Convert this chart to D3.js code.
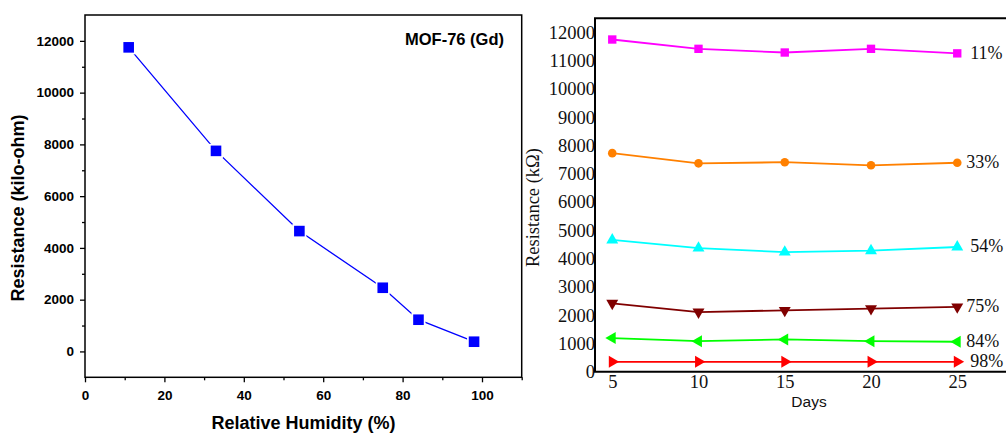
<!DOCTYPE html>
<html>
<head>
<meta charset="utf-8">
<script src="https://cdn.jsdelivr.net/npm/d3@7"></script>
<style>
  html, body { margin: 0; padding: 0; background: #fff; }
  svg { display: block; }
</style>
</head>
<body>
<svg id="chart" width="1006" height="433"></svg>
<script>
// ---------- Data: left panel ----------
const humidity = [11, 33, 54, 75, 84, 98];
const resistanceVsRH = [11750, 7750, 4650, 2460, 1225, 375];
const leftTitle = "MOF-76 (Gd)";
const leftXTicks = [0, 20, 40, 60, 80, 100];
const leftYTicks = [0, 2000, 4000, 6000, 8000, 10000, 12000];

// ---------- Data: right panel ----------
const days = [5, 10, 15, 20, 25];
const seriesLabels = ["11%", "33%", "54%", "75%", "84%", "98%"];
const rh11 = [11750, 11420, 11290, 11420, 11260];
const rh33 = [7730, 7370, 7410, 7300, 7390];
const rh54 = [4660, 4370, 4230, 4280, 4410];
const rh75 = [2420, 2110, 2170, 2230, 2290];
const rh84 = [1190, 1080, 1140, 1080, 1060];
const rh98 = [350, 350, 350, 350, 350];
const rightXTicks = [5, 10, 15, 20, 25];
const rightYTicks = [0,1000,2000,3000,4000,5000,6000,7000,8000,9000,10000,11000,12000];

const seriesColors = ["#ff00ff", "#ff8000", "#00ffff", "#800000", "#00ff00", "#ff0000"];
const seriesShapes = ["square", "circle", "triUp", "triDown", "triLeft", "triRight"];
const seriesValues = [rh11, rh33, rh54, rh75, rh84, rh98];

const svg = d3.select("#chart");
const sans = "'Liberation Sans', Arial, Helvetica, sans-serif";
const serif = "'Liberation Serif', 'Times New Roman', Times, serif";

// ================= LEFT PANEL =================
const L = { left: 85, right: 521.7, top: 15, bottom: 377.3 };
const xL = d3.scaleLinear().domain([0, 110]).range([L.left, L.right]);
const yL = d3.scaleLinear().domain([-1000, 13000]).range([L.bottom, L.top]);

const gL = svg.append("g");

// frame
gL.append("rect")
  .attr("x", L.left).attr("y", L.top)
  .attr("width", L.right - L.left).attr("height", L.bottom - L.top)
  .attr("fill", "none").attr("stroke", "#000").attr("stroke-width", 1.5);

// x axis major
gL.append("g").attr("transform", `translate(0,${L.bottom})`)
  .call(d3.axisBottom(xL).tickValues(leftXTicks).tickSize(5).tickPadding(8.5).tickFormat(d3.format("d")));
// x axis minor
gL.append("g").attr("transform", `translate(0,${L.bottom})`)
  .call(d3.axisBottom(xL).tickValues(d3.range(10, 111, 20)).tickSize(3).tickFormat(""));
// y axis major
gL.append("g").attr("transform", `translate(${L.left},0)`)
  .call(d3.axisLeft(yL).tickValues(leftYTicks).tickSize(5).tickPadding(6).tickFormat(d3.format("d")));
// y axis minor
gL.append("g").attr("transform", `translate(${L.left},0)`)
  .call(d3.axisLeft(yL).tickValues(d3.range(1000, 13000, 2000)).tickSize(3).tickFormat(""));

gL.selectAll(".domain").remove();
gL.selectAll(".tick line").attr("stroke", "#000").attr("stroke-width", 1.3);
gL.selectAll(".tick text")
  .attr("font-family", sans).attr("font-weight", "bold")
  .attr("font-size", 13.5).attr("fill", "#000");

// line
const leftPts = humidity.map((h, i) => [h, resistanceVsRH[i]]);
gL.append("path")
  .datum(leftPts)
  .attr("fill", "none").attr("stroke", "#0000ff").attr("stroke-width", 1.3)
  .attr("d", d3.line().x(d => xL(d[0])).y(d => yL(d[1])));

// markers with white halo
gL.selectAll("rect.halo").data(leftPts).enter().append("rect")
  .attr("x", d => xL(d[0]) - 7).attr("y", d => yL(d[1]) - 7)
  .attr("width", 14).attr("height", 14).attr("fill", "#fff");
gL.selectAll("rect.mk").data(leftPts).enter().append("rect")
  .attr("x", d => xL(d[0]) - 5.3).attr("y", d => yL(d[1]) - 5.3)
  .attr("width", 10.6).attr("height", 10.6).attr("fill", "#0000ff");

// title
gL.append("text").attr("x", 504).attr("y", 45).attr("text-anchor", "end")
  .attr("font-family", sans).attr("font-weight", "bold").attr("font-size", 16.5)
  .text(leftTitle);

// axis titles
gL.append("text").attr("x", (xL(0) + xL(100)) / 2 + 20).attr("y", 429).attr("text-anchor", "middle")
  .attr("font-family", sans).attr("font-weight", "bold").attr("font-size", 18)
  .text("Relative Humidity (%)");
gL.append("text").attr("transform", "translate(24,208) rotate(-90)").attr("text-anchor", "middle")
  .attr("font-family", sans).attr("font-weight", "bold").attr("font-size", 18)
  .text("Resistance (kilo-ohm)");

// ================= RIGHT PANEL =================
const R = { left: 595, top: 18.3, bottom: 371.7 };
const xR = d3.scaleLinear().domain([4, 28]).range([R.left, R.left + 24 * 17.25]);
const yR = d3.scaleLinear().domain([0, 12500]).range([R.bottom, R.top]);

const gR = svg.append("g");

// axes (labels only, no tick marks)
gR.append("g").attr("transform", `translate(0,${R.bottom})`)
  .call(d3.axisBottom(xR).tickValues(rightXTicks).tickSize(0).tickPadding(3).tickFormat(d3.format("d")));
gR.append("g").attr("transform", `translate(${R.left},0)`)
  .call(d3.axisLeft(yR).tickValues(rightYTicks).tickSize(0).tickPadding(0).tickFormat(d3.format("d")));
gR.selectAll(".domain").remove();
gR.selectAll(".tick text")
  .attr("font-family", serif).attr("font-size", 18.5).attr("fill", "#111");

// frame lines (left, bottom, top)
gR.append("path")
  .attr("d", `M1006,${R.top}H${R.left}V${R.bottom}H1006`)
  .attr("fill", "none").attr("stroke", "#000").attr("stroke-width", 2);

// series
const symbolFor = (shape) => {
  switch (shape) {
    case "square": return d3.symbol().type(d3.symbolSquare).size(70)();
    case "circle": return d3.symbol().type(d3.symbolCircle).size(58)();
    default: return d3.symbol().type(d3.symbolTriangle).size(62)();
  }
};
const rotFor = { square: 0, circle: 0, triUp: 0, triDown: 180, triLeft: -90, triRight: 90 };

seriesValues.forEach((vals, si) => {
  const pts = days.map((d, i) => [d, vals[i]]);
  const color = seriesColors[si];
  gR.append("path").datum(pts)
    .attr("fill", "none").attr("stroke", color).attr("stroke-width", 1.8)
    .attr("d", d3.line().x(d => xR(d[0])).y(d => yR(d[1])));
  const shape = seriesShapes[si];
  gR.selectAll(null).data(pts).enter().append("path")
    .attr("d", symbolFor(shape))
    .attr("transform", d => `translate(${xR(d[0])},${yR(d[1])}) rotate(${rotFor[shape]})`)
    .attr("fill", color);
  const last = pts[pts.length - 1];
  const dx = (shape === "square" || shape === "triUp" || shape === "triRight") ? 13 : 9;
  gR.append("text")
    .attr("x", xR(last[0]) + dx).attr("y", yR(last[1]) - 1).attr("dy", "0.35em")
    .attr("font-family", serif).attr("font-size", 18).attr("fill", "#111")
    .text(seriesLabels[si]);
});

// axis titles
gR.append("text").attr("x", 809).attr("y", 407).attr("text-anchor", "middle")
  .attr("font-family", sans).attr("font-size", 15.5).attr("fill", "#111")
  .text("Days");
gR.append("text").attr("transform", "translate(539,207.5) rotate(-90)").attr("text-anchor", "middle")
  .attr("font-family", serif).attr("font-size", 18.5).attr("fill", "#111")
  .text("Resistance (kΩ)");
</script>
</body>
</html>
